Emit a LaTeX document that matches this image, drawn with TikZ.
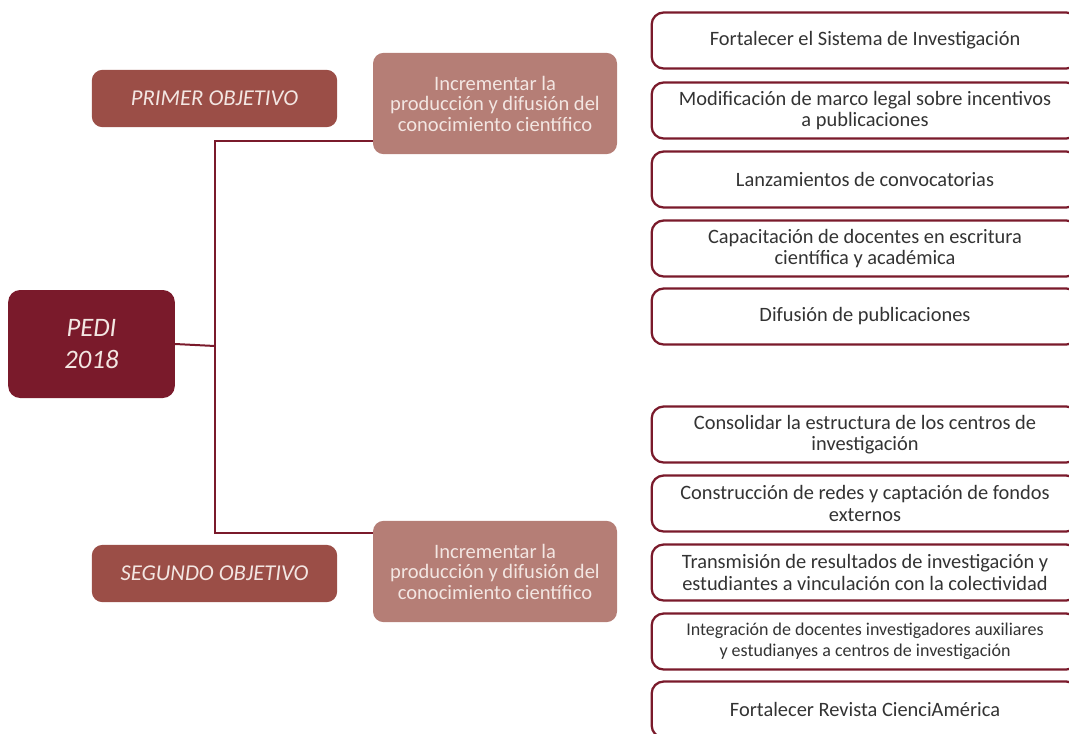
\documentclass[tikz,border=0pt]{standalone}
\usepackage{fontspec}
\setmainfont{Carlito}
\usepackage{xcolor}
\usepackage{tikz}
\usetikzlibrary{calc}

\definecolor{maroon}{HTML}{7A1A2B}
\definecolor{objcol}{HTML}{9B4E47}
\definecolor{inccol}{HTML}{B57E76}
\definecolor{paletext}{HTML}{F3E6E2}

\tikzset{
  pedibox/.style={fill=maroon,rounded corners=9pt,minimum width=125pt,minimum height=81pt,
    text=paletext,font=\fontsize{20}{24}\selectfont\itshape,align=center,inner sep=0pt},
  objbox/.style={fill=objcol,rounded corners=8pt,minimum width=184pt,minimum height=43pt,
    text=paletext,font=\fontsize{17}{20}\selectfont\itshape,inner sep=0pt},
  incbox/.style={fill=inccol,rounded corners=8pt,minimum width=183pt,minimum height=76pt,
    text=paletext,font=\fontsize{15.4}{15.4}\selectfont,align=center,inner sep=0pt},
  actbox/.style={draw=maroon,line width=1.7pt,rounded corners=9pt,fill=white,
    minimum width=320pt,minimum height=42pt,text=black!80,
    font=\fontsize{15.3}{15.8}\selectfont,align=center,inner sep=0pt},
  tree/.style={draw=maroon,line width=1.5pt}
}

\begin{document}
\begin{tikzpicture}[x=0.75pt,y=-0.75pt]
\useasboundingbox (0,0) rectangle (1069,733);
\clip (0,0) rectangle (1069,733);

% left side
\node[pedibox] (pedi) at (91.5,344) {PEDI\\2018};
\node[objbox] (obj1) at (214.5,98.5) {PRIMER OBJETIVO};
\node[objbox] (obj2) at (214.5,573.5) {SEGUNDO OBJETIVO};
\node[incbox] (inc1) at (495,103.5) {Incrementar la\\producci\'on y difusi\'on del\\conocimiento cient\'ifico};
\node[incbox] (inc2) at (495,571.5) {Incrementar la\\producci\'on y difusi\'on del\\conocimiento cient\'ifico};

% tree
\coordinate (j) at (215,346);
\draw[tree] (pedi.east) -- (j);
\draw[tree] (j) |- ($(inc1.south west)+(0,-13)$);
\draw[tree] (j) |- ($(inc2.north west)+(0,12)$);

% right side boxes
\node[actbox] (a1) at (865,40.5) {Fortalecer el Sistema de Investigaci\'on};
\node[actbox] (a2) at (865,110.5) {Modificaci\'on de marco legal sobre incentivos\\a publicaciones};
\node[actbox] (a3) at (865,179.5) {Lanzamientos de convocatorias};
\node[actbox] (a4) at (865,248.5) {Capacitaci\'on de docentes en escritura\\cient\'ifica y acad\'emica};
\node[actbox] (a5) at (865,316.5) {Difusi\'on de publicaciones};
\node[actbox] (a6) at (865,434.5) {Consolidar la estructura de los centros de\\investigaci\'on};
\node[actbox] (a7) at (865,503.5) {Construcci\'on de redes y captaci\'on de fondos\\externos};
\node[actbox] (a8) at (865,572.5) {Transmisi\'on de resultados de investigaci\'on y\\estudiantes a vinculaci\'on con la colectividad};
\node[actbox,font=\fontsize{13.5}{15.5}\selectfont] (a9) at (865,641.5) {Integraci\'on de docentes investigadores auxiliares\\y estudianyes a centros de investigaci\'on};
\node[actbox] (a10) at (865,709.5) {Fortalecer Revista CienciAm\'erica};
\end{tikzpicture}
\end{document}
